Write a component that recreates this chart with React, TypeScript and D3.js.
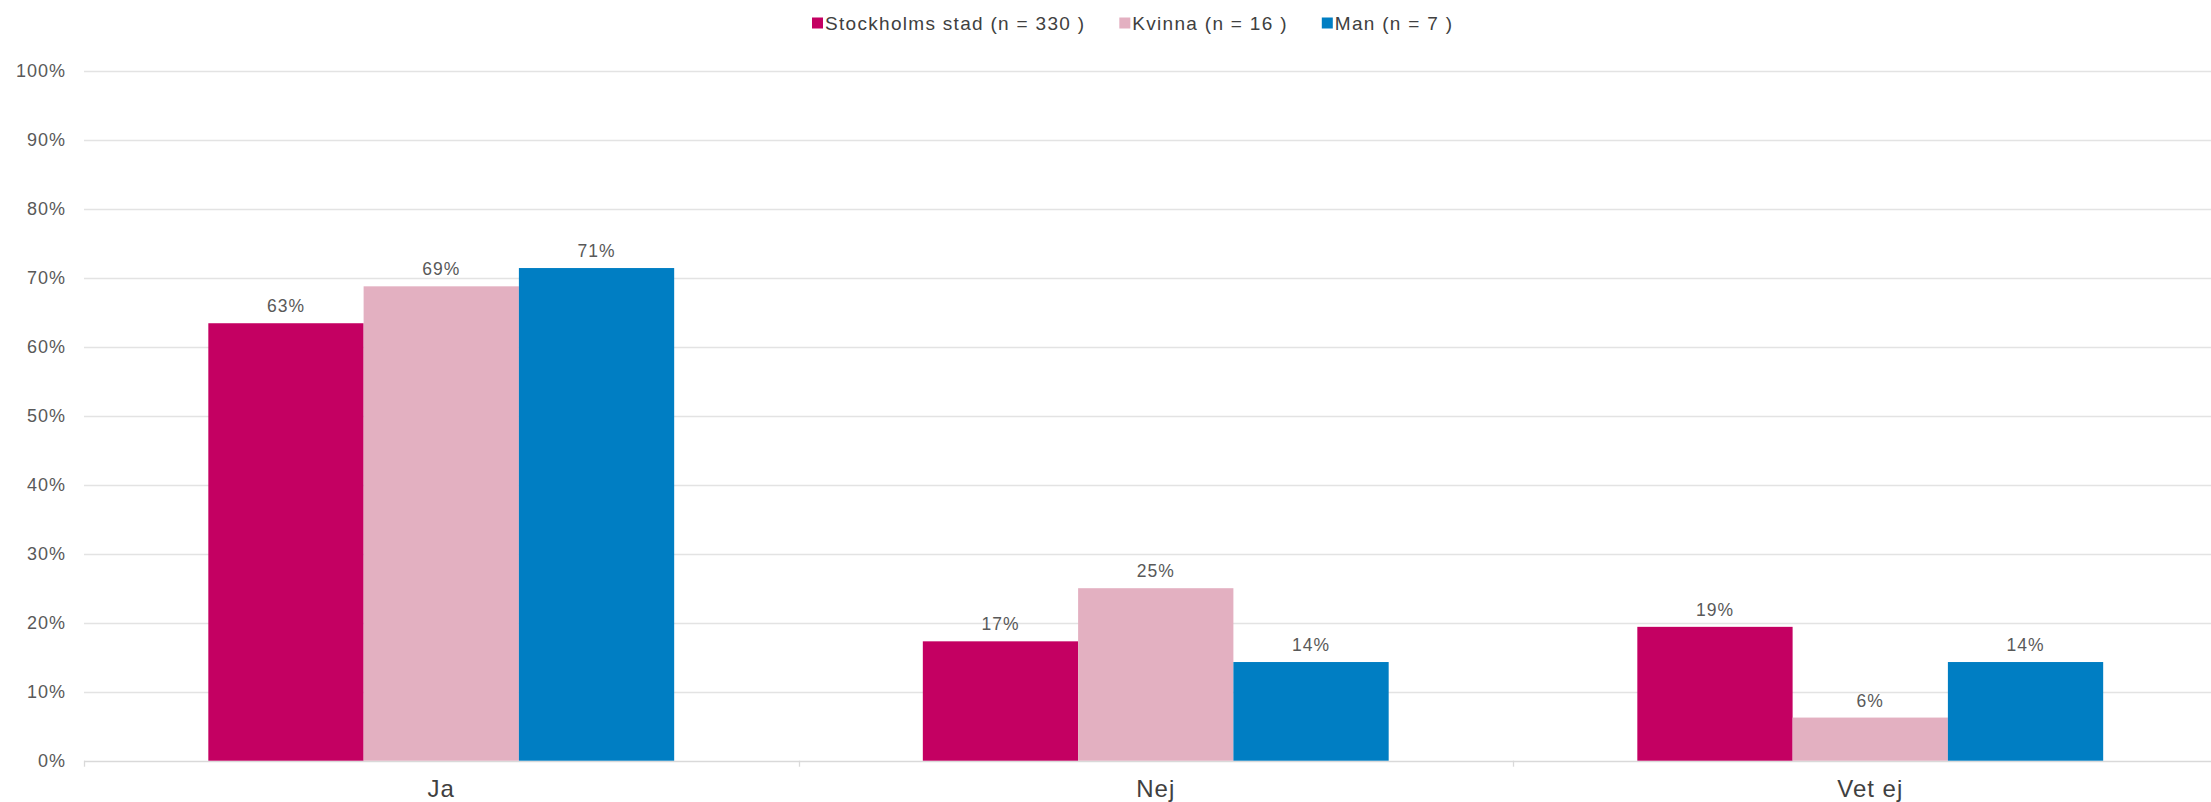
import React, { useEffect, useRef } from "react";
import * as d3 from "d3";

const categories = ["Ja", "Nej", "Vet ej"];
const seriesNames = ["Stockholms stad (n = 330 )", "Kvinna (n = 16 )", "Man (n = 7 )"];
const seriesColors = ["#C40062", "#E3B0C1", "#007EC3"];
const stockholmValues = [63.4, 17.3, 19.4];
const kvinnaValues = [68.75, 25.0, 6.25];
const manValues = [71.4, 14.3, 14.3];
const yTicks = [0, 10, 20, 30, 40, 50, 60, 70, 80, 90, 100];
const valueLabels = [
  ["63%", "17%", "19%"],
  ["69%", "25%", "6%"],
  ["71%", "14%", "14%"],
];

const W = 2211;
const H = 802;
const FONT = "'Liberation Sans', Arial, sans-serif";

export default function App() {
  const ref = useRef<SVGSVGElement>(null);

  useEffect(() => {
    const svg = d3.select(ref.current);
    svg.selectAll("*").remove();

    const left = 84;
    const band = 714.5;
    const x0 = d3.scaleBand<string>().domain(categories).range([left, left + band * categories.length]).padding(0);
    const bw = x0.bandwidth();
    const x1 = d3.scaleBand<string>().domain(seriesNames).range([bw * 0.174, bw * 0.826]).padding(0);
    const y = d3.scaleLinear().domain([0, 100]).range([760.7, 70.7]);

    const allValues = [stockholmValues, kvinnaValues, manValues];

    // gridlines
    svg.append("g")
      .selectAll("line")
      .data(yTicks)
      .join("line")
      .attr("x1", left)
      .attr("x2", W)
      .attr("y1", (d) => Math.round(y(d)) + 0.5)
      .attr("y2", (d) => Math.round(y(d)) + 0.5)
      .attr("stroke", (d) => (d === 0 ? "#D9D9D9" : "#E3E3E3"))
      .attr("stroke-width", 1.3);

    // category tick marks
    const bounds = categories.map((c) => x0(c) as number);
    svg.append("g")
      .selectAll("line")
      .data(bounds)
      .join("line")
      .attr("x1", (d) => Math.round(d) + 0.5)
      .attr("x2", (d) => Math.round(d) + 0.5)
      .attr("y1", y(0))
      .attr("y2", y(0) + 6)
      .attr("stroke", "#D9D9D9")
      .attr("stroke-width", 1.3);

    // y tick labels
    svg.append("g")
      .selectAll("text")
      .data(yTicks)
      .join("text")
      .attr("x", 66)
      .attr("y", (d) => y(d))
      .attr("dy", "0.35em")
      .attr("text-anchor", "end")
      .attr("font-family", FONT)
      .attr("font-size", 18)
      .attr("letter-spacing", 1)
      .attr("fill", "#595959")
      .text((d) => `${d}%`);

    // bars
    seriesNames.forEach((s, si) => {
      const g = svg.append("g");
      const vals = allValues[si];
      g.selectAll("rect")
        .data(categories)
        .join("rect")
        .attr("x", (c) => (x0(c) as number) + (x1(s) as number))
        .attr("width", x1.bandwidth())
        .attr("y", (c, i) => y(vals[i]))
        .attr("height", (c, i) => y(0) - y(vals[i]))
        .attr("fill", seriesColors[si]);
      g.selectAll("text")
        .data(categories)
        .join("text")
        .attr("x", (c) => (x0(c) as number) + (x1(s) as number) + x1.bandwidth() / 2)
        .attr("y", (c, i) => y(vals[i]) - 11)
        .attr("text-anchor", "middle")
        .attr("font-family", FONT)
        .attr("font-size", 17.5)
        .attr("letter-spacing", 1)
        .attr("fill", "#595959")
        .text((c, i) => valueLabels[si][i]);
    });

    // category labels
    svg.append("g")
      .selectAll("text")
      .data(categories)
      .join("text")
      .attr("x", (c) => (x0(c) as number) + bw / 2)
      .attr("y", 797)
      .attr("text-anchor", "middle")
      .attr("font-family", FONT)
      .attr("font-size", 24)
      .attr("letter-spacing", 1)
      .attr("fill", "#404040")
      .text((c) => c);

    // legend
    const lg = svg.append("g");
    let lx = 812;
    seriesNames.forEach((s, si) => {
      lg.append("rect")
        .attr("x", lx)
        .attr("y", 17.5)
        .attr("width", 11)
        .attr("height", 11)
        .attr("fill", seriesColors[si]);
      const t = lg.append("text")
        .attr("x", lx + 13)
        .attr("y", 23)
        .attr("dy", "0.35em")
        .attr("font-family", FONT)
        .attr("font-size", 19)
        .attr("letter-spacing", 1.3)
        .attr("fill", "#404040")
        .text(s);
      const w = (t.node() as SVGTextElement).getComputedTextLength();
      lx = lx + 13 + w + 34;
    });
  }, []);

  return (
    <svg
      ref={ref}
      width={W}
      height={H}
      style={{ position: "absolute", left: 0, top: 0, background: "#fff" }}
    />
  );
}
